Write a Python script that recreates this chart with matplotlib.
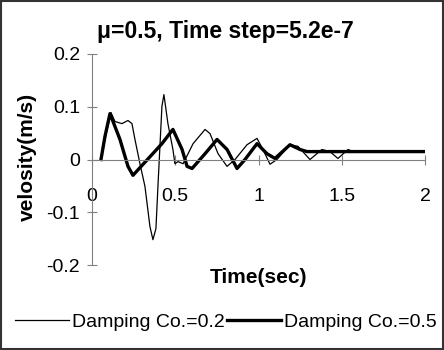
import matplotlib
matplotlib.use("Agg")
import matplotlib.pyplot as plt
import matplotlib.patches as patches
import numpy as np

plt.rcParams['font.family'] = ['Liberation Sans', 'DejaVu Sans']

# damping coefficient 0.2 (thin line)
t_02 = [0.054, 0.084, 0.114, 0.138, 0.180, 0.216, 0.240, 0.258, 0.288, 0.318,
        0.348, 0.366, 0.384, 0.396, 0.420, 0.432, 0.456, 0.486, 0.498, 0.517,
        0.547, 0.607, 0.679, 0.709, 0.757, 0.811, 0.859, 0.931, 0.991, 1.027,
        1.069, 1.111, 1.189, 1.237, 1.309, 1.381, 1.429, 1.477, 1.538, 1.568,
        2.0]
v_02 = [0.0, 0.047, 0.089, 0.072, 0.068, 0.074, 0.068, 0.038, -0.008, -0.051,
        -0.127, -0.152, -0.131, -0.051, 0.101, 0.123, 0.068, 0.019, -0.008, -0.004,
        -0.008, 0.030, 0.057, 0.049, 0.011, -0.013, 0.0, 0.028, 0.040, 0.019,
        -0.009, 0.0, 0.028, 0.025, 0.0, 0.019, 0.015, 0.002, 0.019, 0.015,
        0.015]

# damping coefficient 0.5 (thick line)
t_05 = [0.054, 0.078, 0.108, 0.168, 0.216, 0.246, 0.420, 0.486, 0.541, 0.571,
        0.601, 0.679, 0.751, 0.811, 0.871, 0.919, 0.991, 1.051, 1.099, 1.189,
        1.249, 1.291, 2.0]
v_05 = [0.0, 0.044, 0.087, 0.038, -0.013, -0.030, 0.030, 0.057, 0.019, -0.013,
        -0.017, 0.011, 0.038, 0.019, -0.017, 0.0, 0.030, 0.011, 0.002, 0.028,
        0.019, 0.015, 0.015]

labels = ['Damping Co.=0.2', 'Damping Co.=0.5']

fig = plt.figure(figsize=(4.44, 3.5), dpi=100)
ax = fig.add_axes([92/444, 1-265/350, 333/444, 211/350])

ax.plot(t_02, v_02, color='black', linewidth=0.9, label=labels[0])
ax.plot(t_05, v_05, color='black', linewidth=2.4, label=labels[1],
        solid_joinstyle='round')

ax.set_xlim(0, 2)
ax.set_ylim(-0.2, 0.2)
ax.set_xticks([0, 0.5, 1, 1.5, 2])
ax.set_xticklabels(['0', '0.5', '1', '1.5', '2'])
ax.set_yticks([-0.2, -0.1, 0, 0.1, 0.2])
ax.set_yticklabels(['-0.2', '-0.1', '0', '0.1', '0.2'])

gray = '#808080'
ax.spines['top'].set_visible(False)
ax.spines['right'].set_visible(False)
ax.spines['bottom'].set_position(('data', 0))
ax.spines['left'].set_position(('data', 0))
ax.spines['bottom'].set_color(gray)
ax.spines['left'].set_color(gray)
ax.tick_params(axis='both', direction='inout', length=7, color=gray, labelsize=14)
ax.tick_params(axis='x', pad=17)
ax.tick_params(axis='y', pad=5)

ax.set_xlabel('Time(sec)', fontsize=15, fontweight='bold')
ax.xaxis.set_label_coords(0.5, -0.057)
ax.xaxis.label.set_verticalalignment('center')
ax.set_ylabel('velosity(m/s)', fontsize=15, fontweight='bold')
ax.yaxis.set_label_coords(-0.195, 0.512)
ax.yaxis.label.set_verticalalignment('center')

fig.text(225/444, 1-38/350, 'μ=0.5, Time step=5.2e-7', fontsize=16.5,
         fontweight='bold', ha='center', va='baseline')

fig.legend(loc='center', bbox_to_anchor=(0.509, 1-322/350), ncol=2,
           frameon=False, fontsize=14, handlelength=2.8, handletextpad=0.15,
           columnspacing=0.1, borderaxespad=0)

fig.patches.append(patches.Rectangle((0.002, 0.003), 0.995, 0.994,
                   transform=fig.transFigure, fill=False,
                   edgecolor='#333333', linewidth=1.5))

fig.savefig('out.png', dpi=100)
